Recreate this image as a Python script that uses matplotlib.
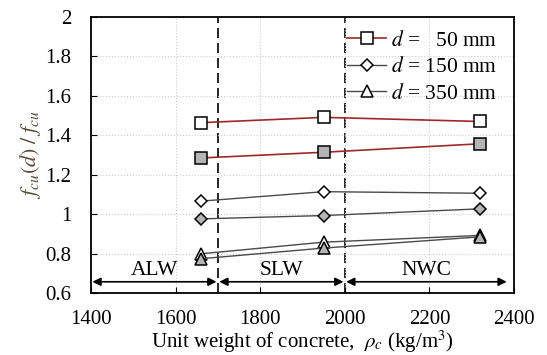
import matplotlib
matplotlib.use("Agg")
import matplotlib.pyplot as plt

plt.rcParams["font.family"] = ["Liberation Serif", "DejaVu Serif"]
plt.rcParams["mathtext.fontset"] = "stix"

# data
rho = [1660, 1950, 2320]
sq_open = [1.464, 1.491, 1.470]
sq_fill = [1.285, 1.314, 1.357]
di_open = [1.066, 1.114, 1.106]
di_fill = [0.976, 0.993, 1.027]
tr_open = [0.799, 0.858, 0.892]
tr_fill = [0.774, 0.828, 0.885]

zone_edges = [1400, 1700, 2000, 2386]
zone_names = ["ALW", "SLW", "NWC"]
xticks = [1400, 1600, 1800, 2000, 2200, 2400]
yticks = [0.6, 0.8, 1.0, 1.2, 1.4, 1.6, 1.8, 2.0]
ytick_labels = ["0.6", "0.8", "1", "1.2", "1.4", "1.6", "1.8", "2"]

RED = "#A0282A"
GRAY = "#4A4A4A"
FILL = "#B4B4B4"

fig = plt.figure(figsize=(5.47, 3.55), dpi=100)
ax = fig.add_axes([0.1664, 0.1746, 0.7733, 0.7775])

mk = dict(markersize=8, markeredgecolor="black", markeredgewidth=1.1)
mkd = dict(mk, markersize=6.5)
ax.plot(rho, sq_open, color=RED, lw=1.2, marker="s", markerfacecolor="white",
        label=r"$d$ =   50 mm", **mk)
ax.plot(rho, sq_fill, color=RED, lw=1.2, marker="s", markerfacecolor=FILL, **mk)
ax.plot(rho, di_open, color=GRAY, lw=1.0, marker="D", markerfacecolor="white",
        label=r"$d$ = 150 mm", **mkd)
ax.plot(rho, di_fill, color=GRAY, lw=1.0, marker="D", markerfacecolor=FILL, **mkd)
ax.plot(rho, tr_open, color=GRAY, lw=1.0, marker="^", markerfacecolor="white",
        label=r"$d$ = 350 mm", **mk)
ax.plot(rho, tr_fill, color=GRAY, lw=1.0, marker="^", markerfacecolor=FILL, **mk)

# zone boundaries
for xb in zone_edges[1:-1]:
    ax.axvline(xb, color="black", lw=1.2, ls=(0, (6, 3)), zorder=1)

# zone arrows and names
for i, name in enumerate(zone_names):
    x0, x1 = zone_edges[i], zone_edges[i + 1]
    ax.annotate("", xy=(x1, 0.657), xytext=(x0, 0.657),
                arrowprops=dict(arrowstyle="<|-|>", color="black", lw=1.2,
                                mutation_scale=12, shrinkA=1, shrinkB=1))
    ax.text((x0 + x1) / 2, 0.712, name, ha="center", va="center", fontsize=15.5)

ax.set_xlim(1400, 2400)
ax.set_ylim(0.6, 2.0)
ax.set_xticks(xticks)
ax.set_yticks(yticks)
ax.set_yticklabels(ytick_labels)
ax.tick_params(labelsize=15, direction="in", length=4, width=0.8)
ax.tick_params(axis="x", pad=12)
ax.tick_params(axis="y", pad=14)
ax.grid(True, color="#CCCCCC", ls=":", lw=0.8)
for s in ax.spines.values():
    s.set_linewidth(1.3)

ax.set_ylabel(r"$f_{cu}(d)\;/\;f_{cu}$", fontsize=16, color="#5A4A3A", labelpad=2)
ax.set_xlabel(r"Unit weight of concrete,  $\rho_c$ (kg/m$^3$)", fontsize=15,
              labelpad=0)

ax.legend(loc="upper right", frameon=False, fontsize=15.5, handlelength=1.8,
          handletextpad=0.2, labelspacing=0.3, borderaxespad=0.1,
          bbox_to_anchor=(0.985, 0.99))

fig.savefig("out.png", dpi=100)
